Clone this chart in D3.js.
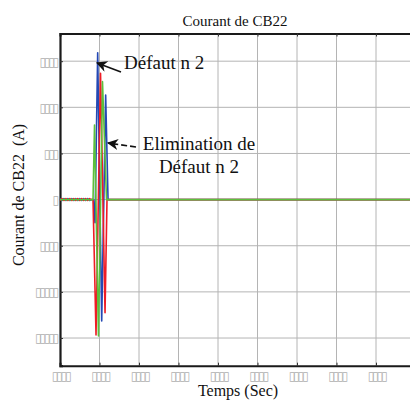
<!DOCTYPE html>
<html>
<head>
<meta charset="utf-8">
<script src="https://cdn.jsdelivr.net/npm/d3@7"></script>
<style>
  html, body { margin: 0; padding: 0; background: #fff; }
  svg { display: block; }
</style>
</head>
<body>
<div id="chart"></div>
<script>
// ---- Data ----
const title = "Courant de CB22";
const xLabel = "Temps (Sec)";
const yLabel = "Courant de CB22  (A)";
const xTicks = [0, 0.05, 0.10, 0.15, 0.20, 0.25, 0.30, 0.35, 0.40];
const yTicks = [-1500, -1000, -500, 0, 500, 1000, 1500];

// pre-fault small ripple
const preTime  = [0.0000,0.0025,0.0050,0.0075,0.0100,0.0125,0.0150,0.0175,0.0200,0.0225,0.0250,0.0275,0.0300,0.0325,0.0350,0.0375,0.0400];
const preBlue  = [10,-10,10,-10,10,-10,10,-10,10,-10,10,-10,10,-10,10,-10,0];
const preRed   = [-10,10,-10,10,-10,10,-10,10,-10,10,-10,10,-10,10,-10,10,0];
const preGreen = [4,-4,4,-4,4,-4,4,-4,4,-4,4,-4,4,-4,4,-4,0];

// fault transient
const faultTimeBlue  = [0.0424,0.0443,0.0477,0.0528,0.0578,0.0608];
const faultBlue      = [0,-250,1590,-1316,1133,0];
const faultTimeRed   = [0.0418,0.0456,0.0513,0.0570,0.0595];
const faultRed       = [0,-1467,1369,-1226,0];
const faultTimeGreen = [0.0418,0.0437,0.0487,0.0538,0.0589];
const faultGreen     = [0,808,-1478,1278,0];

// post-clearing
const postTime = [0.0610, 0.4500];
const postVals = [0, 0];

const seriesNames = ["Phase b", "Phase a", "Phase c"];
const colors = ["#2448b4", "#ee1c25", "#5cbf3c"];

// ---- Build series ----
function build(pre, ft, fv) {
  const pts = preTime.map((t, i) => [t, pre[i]]);
  ft.forEach((t, i) => pts.push([t, fv[i]]));
  postTime.forEach((t, i) => pts.push([t, postVals[i]]));
  return pts;
}
const series = [
  build(preBlue, faultTimeBlue, faultBlue),
  build(preRed, faultTimeRed, faultRed),
  build(preGreen, faultTimeGreen, faultGreen)
];

// ---- Layout ----
const W = 410, H = 400;
const mLeft = 60, mRight = 415.5, mTop = 33.5, mBottom = 365.7;

const svg = d3.select("#chart").append("svg").attr("width", W).attr("height", H);

const x = d3.scaleLinear().domain([0, 0.45]).range([mLeft, mRight]);
const y = d3.scaleLinear().domain([-1800, 1800]).range([mBottom, mTop]);

const tofu = s => String(s).replace(/./g, "\u25AF");
const fmtX = d3.format(".2f");
const fmtY = d3.format("d");

// grid
const grid = svg.append("g").attr("stroke", "#b4b4b4").attr("stroke-width", 1);
xTicks.forEach(t => {
  if (t === 0) return;
  grid.append("line").attr("x1", x(t)).attr("x2", x(t)).attr("y1", mTop).attr("y2", mBottom);
});
yTicks.forEach(t => {
  grid.append("line").attr("x1", mLeft).attr("x2", W).attr("y1", y(t)).attr("y2", y(t));
});

const tickFont = "DejaVu Sans";
// axes via d3 axes
const xAxis = d3.axisBottom(x).tickValues(xTicks).tickSize(-3).tickPadding(5).tickFormat(d => tofu(fmtX(d)));
const gx = svg.append("g").attr("transform", `translate(0,${mBottom})`).call(xAxis);
gx.select(".domain").attr("stroke", "#1a1a1a").attr("stroke-width", 2);
gx.selectAll(".tick line").attr("stroke", "#333");
gx.selectAll(".tick text").attr("font-family", tickFont).attr("font-size", 12)
  .attr("fill", "#b0b0b0").attr("dy", "0.8em").attr("letter-spacing", -2.2);

const xTop = d3.axisTop(x).tickValues(xTicks).tickSize(-3).tickFormat("");
const gxt = svg.append("g").attr("transform", `translate(0,${mTop})`).call(xTop);
gxt.select(".domain").attr("stroke", "#1a1a1a").attr("stroke-width", 2);
gxt.selectAll(".tick line").attr("stroke", "#333");

const yAxis = d3.axisLeft(y).tickValues(yTicks).tickSize(-3).tickPadding(3).tickFormat(d => tofu(fmtY(d)));
const gy = svg.append("g").attr("transform", `translate(${mLeft},0)`).call(yAxis);
gy.select(".domain").attr("stroke", "#1a1a1a").attr("stroke-width", 2.2);
gy.selectAll(".tick line").attr("stroke", "#333");
gy.selectAll(".tick text").attr("font-family", tickFont).attr("font-size", 12)
  .attr("fill", "#b0b0b0").attr("letter-spacing", -2.2);

// lines
const line = d3.line().x(d => x(d[0])).y(d => y(d[1]));
const lg = svg.append("g");
series.forEach((s, i) => {
  lg.append("path").datum(s).attr("d", line).attr("fill", "none")
    .attr("stroke", colors[i]).attr("stroke-width", 1.6).attr("stroke-linejoin", "round")
    .attr("data-name", seriesNames[i]);
});

// title / labels
const serif = "Liberation Serif, Times New Roman, serif";
svg.append("text").attr("x", 235).attr("y", 26).attr("text-anchor", "middle")
  .attr("font-family", serif).attr("font-size", 15).attr("fill", "#111").text(title);
svg.append("text").attr("x", 238).attr("y", 396).attr("text-anchor", "middle")
  .attr("font-family", serif).attr("font-size", 16).attr("fill", "#111").text(xLabel);
svg.append("text").attr("transform", "translate(24,195) rotate(-90)").attr("text-anchor", "middle")
  .attr("font-family", serif).attr("font-size", 16).attr("fill", "#111").attr("xml:space", "preserve").text(yLabel);

// annotations
const defs = svg.append("defs");
defs.append("marker").attr("id", "ah").attr("viewBox", "0 0 10 10").attr("refX", 9).attr("refY", 5)
  .attr("markerWidth", 7).attr("markerHeight", 7).attr("orient", "auto")
  .append("path").attr("d", "M0,0 L10,5 L0,10 L3,5 Z").attr("fill", "#111");

svg.append("line").attr("x1", 121).attr("y1", 72).attr("x2", 97).attr("y2", 63)
  .attr("stroke", "#111").attr("stroke-width", 1.6).attr("marker-end", "url(#ah)");
svg.append("line").attr("x1", 136).attr("y1", 147).attr("x2", 108).attr("y2", 143)
  .attr("stroke", "#111").attr("stroke-width", 1.6).attr("stroke-dasharray", "6,3").attr("marker-end", "url(#ah)");

svg.append("text").attr("x", 124).attr("y", 69).attr("font-family", serif).attr("font-size", 19)
  .attr("fill", "#111").text("Défaut n 2");
svg.append("text").attr("x", 199).attr("y", 150).attr("text-anchor", "middle").attr("font-family", serif).attr("font-size", 19)
  .attr("fill", "#111").text("Elimination de");
svg.append("text").attr("x", 199).attr("y", 173).attr("text-anchor", "middle").attr("font-family", serif).attr("font-size", 19)
  .attr("fill", "#111").text("Défaut n 2");
</script>
</body>
</html>
